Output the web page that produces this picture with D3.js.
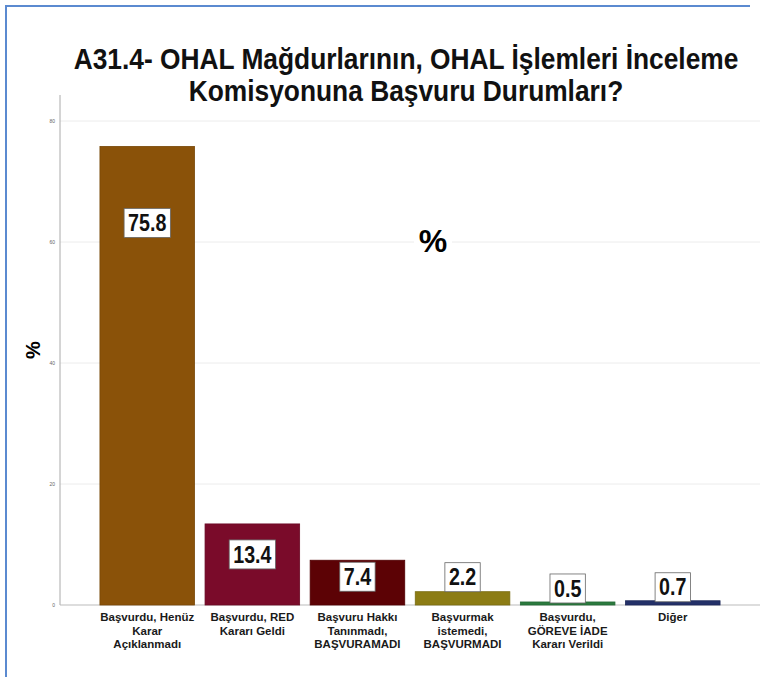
<!DOCTYPE html>
<html><head><meta charset="utf-8">
<script src="https://cdn.jsdelivr.net/npm/d3@7"></script>
<style>body{margin:0;background:#fff}svg{display:block}</style>
</head><body>
<svg id="c" width="761" height="677"></svg>
<script>
const categories = [
  ["Başvurdu, Henüz","Karar","Açıklanmadı"],
  ["Başvurdu, RED","Kararı Geldi"],
  ["Başvuru Hakkı","Tanınmadı,","BAŞVURAMADI"],
  ["Başvurmak","istemedi,","BAŞVURMADI"],
  ["Başvurdu,","GÖREVE İADE","Kararı Verildi"],
  ["Diğer"]
];
const values = [75.8, 13.4, 7.4, 2.2, 0.5, 0.7];
const yTicks = [0, 20, 40, 60, 80];
const titleLines = ["A31.4- OHAL Mağdurlarının, OHAL İşlemleri İnceleme","Komisyonuna Başvuru Durumları?"];
const colors = ["#8a5209","#7a0b2a","#5c0205","#8c7c14","#2b7a3e","#233068"];

const svg = d3.select("#c");
const FONT = "'Liberation Sans', Arial, sans-serif";

// border (top and left edges visible)
svg.append("path").attr("d","M6,690V6H750")
  .attr("fill","none").attr("stroke","#5b8ad0").attr("stroke-width",2);

const x = d3.scaleBand().domain(d3.range(values.length)).range([60,760])
  .paddingInner(0.1).paddingOuter(0.38);
const y = d3.scaleLinear().domain([0,80]).range([605,121]);

// gridlines
svg.append("g").selectAll("line").data(yTicks.filter(d=>d>0)).join("line")
  .attr("x1",60).attr("x2",760).attr("y1",d=>y(d)).attr("y2",d=>y(d))
  .attr("stroke","#ececec").attr("stroke-width",1);

// y axis
const ya = svg.append("g").attr("transform","translate(60,0)")
  .call(d3.axisLeft(y).tickValues(yTicks).tickSize(0).tickPadding(5));
ya.select(".domain").attr("stroke","#aaa").attr("d","M0,95V605");
ya.selectAll("text").attr("font-size",5).attr("fill","#666").attr("font-family",FONT);

// x axis baseline
svg.append("line").attr("x1",60).attr("x2",760).attr("y1",y(0)).attr("y2",y(0))
  .attr("stroke","#bbb").attr("stroke-width",1);

// middle % with white background
svg.append("rect").attr("x",414).attr("y",222).attr("width",38).attr("height",36).attr("fill","#fff");
svg.append("text").attr("x",433).attr("y",252).attr("text-anchor","middle")
  .attr("font-family",FONT).attr("font-weight","bold").attr("font-size",32).text("%");

// bars
svg.append("g").selectAll("rect").data(values).join("rect")
  .attr("x",(d,i)=>x(i)).attr("width",x.bandwidth())
  .attr("y",d=>y(d)).attr("height",d=>y(0)-y(d))
  .attr("fill",(d,i)=>colors[i]).attr("stroke",(d,i)=>d3.color(colors[i]).darker(0.4)).attr("stroke-width",0.8);

// value labels
const labelOffset = [76, 30, 16, -15, -14, -14]; // px from bar top to label centre (positive = inside)
const lg = svg.append("g").selectAll("g").data(values).join("g")
  .attr("transform",(d,i)=>`translate(${x(i)+x.bandwidth()/2},${y(d)+labelOffset[i]})`);
lg.append("rect").attr("fill","#fff").attr("stroke","#666").attr("stroke-width",0.8);
lg.append("text").attr("text-anchor","middle").attr("dy","0.36em")
  .attr("font-family",FONT).attr("font-weight","bold").attr("font-size",24)
  .attr("transform","scale(0.82,1)").attr("fill","#111").text(d=>d.toFixed(1));
lg.each(function(){
  const g=d3.select(this); const w=g.select("text").node().getComputedTextLength()*0.82;
  g.select("rect").attr("x",-w/2-4).attr("y",-14).attr("width",w+8).attr("height",29);
});

// category labels
const cl = svg.append("g").selectAll("text").data(categories).join("text")
  .attr("text-anchor","middle").attr("font-family",FONT).attr("font-weight","bold")
  .attr("font-size",11.5).attr("fill","#1a1a1a");
cl.each(function(lines,i){
  d3.select(this).selectAll("tspan").data(lines).join("tspan")
    .attr("x",x(i)+x.bandwidth()/2).attr("y",(d,j)=>621+j*13.5).text(d=>d);
});

// y title
svg.append("text").attr("transform","translate(40,350) rotate(-90)").attr("text-anchor","middle")
  .attr("font-family",FONT).attr("font-weight","bold").attr("font-size",20).text("%");

// title (condensed to match the reference width)
const tt = svg.append("g");
titleLines.forEach((t,i)=>{
  tt.append("text").attr("text-anchor","middle").attr("font-family",FONT)
    .attr("font-weight","bold").attr("font-size",29).attr("fill","#111").text(t);
});
const first = tt.select("text").node();
const sx = 665/first.getComputedTextLength();
tt.selectAll("text").each(function(d,k){
  d3.select(this).attr("transform",`translate(406,${69+k*32}) scale(${sx},1)`);
});
</script>
</body></html>
